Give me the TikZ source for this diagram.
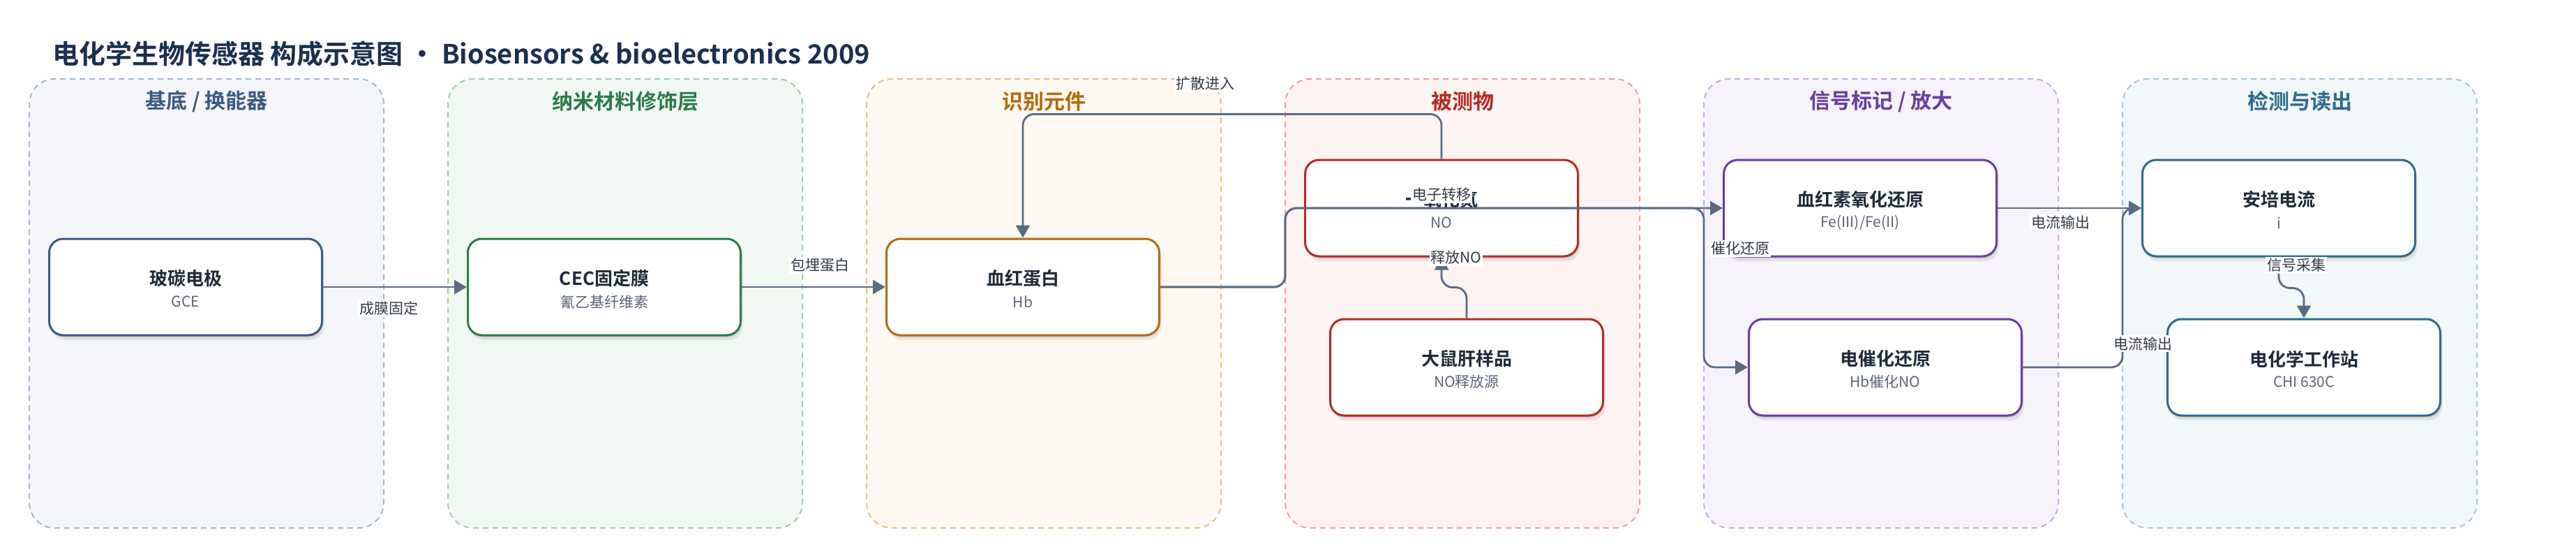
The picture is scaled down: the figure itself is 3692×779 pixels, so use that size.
\documentclass[tikz,border=0pt]{standalone}
\usepackage{fontspec}
\setmainfont{Noto Sans CJK SC}[BoldFont={Noto Sans CJK SC Bold}]
\usetikzlibrary{arrows.meta,shadows}

\definecolor{ink}{HTML}{1E2A38}
\definecolor{titleink}{HTML}{1B2F4E}
\definecolor{subgray}{HTML}{5B6577}
\definecolor{edgecol}{HTML}{5A6B82}
\definecolor{lblgray}{HTML}{333A45}
% clusters: border, fill, accent
\definecolor{aB}{HTML}{A7B4C8}\definecolor{aF}{HTML}{F4F6FA}\definecolor{aC}{HTML}{3C5A82}
\definecolor{bB}{HTML}{9FCBB0}\definecolor{bF}{HTML}{F1F8F3}\definecolor{bC}{HTML}{2D7A4A}
\definecolor{cB}{HTML}{E6BD85}\definecolor{cF}{HTML}{FDF9F2}\definecolor{cC}{HTML}{B5690D}
\definecolor{dB}{HTML}{E9A0A0}\definecolor{dF}{HTML}{FDF3F2}\definecolor{dC}{HTML}{B52A22}
\definecolor{eB}{HTML}{C8A8E0}\definecolor{eF}{HTML}{F7F3FB}\definecolor{eC}{HTML}{6A3D9E}
\definecolor{fB}{HTML}{A5C6D4}\definecolor{fF}{HTML}{F2F7F9}\definecolor{fC}{HTML}{2E6B8C}

\tikzset{
  clusterbox/.style={rectangle, rounded corners=36pt, line width=2pt,
    dash pattern=on 8pt off 6pt, minimum width=508pt, minimum height=643pt, inner sep=0pt},
  ctitle/.style={font=\bfseries\fontsize{30}{36}\selectfont, inner sep=0pt},
  nodebox/.style={rectangle, rounded corners=20pt, line width=3pt, fill=white,
    minimum width=391pt, minimum height=138pt, inner sep=0pt,
    drop shadow={shadow xshift=3pt, shadow yshift=-7pt, opacity=0.08, fill=black},
    drop shadow={shadow xshift=1pt, shadow yshift=-3pt, opacity=0.10, fill=black}},
  ntitle/.style={font=\bfseries\fontsize{26}{30}\selectfont, text=ink, inner sep=0pt},
  nsub/.style={font=\fontsize{21}{25}\selectfont, text=subgray, inner sep=0pt},
  conn/.style={draw=edgecol, line width=2.8pt, rounded corners=16pt,
    -{Triangle[length=18pt,width=20pt]}},
  elabel/.style={font=\fontsize{21}{25}\selectfont, text=lblgray, fill=white, inner sep=2pt},
}

\newcommand\mybox[6]{% name, x, y, color, title, sub
  \node[nodebox, draw=#4] (#1) at (#2,#3) {};
  \node[ntitle] (#1-t) at (#2,#3-12) {#5};
  \node[nsub] (#1-s) at (#2,#3+21) {#6};
}

\begin{document}
\begin{tikzpicture}[x=1pt,y=-1pt]
\useasboundingbox (0,0) rectangle (3692,779);
\fill[white] (0,0) rectangle (3692,779);

% title
\node[anchor=west, inner sep=0pt, font=\bfseries\fontsize{38}{44}\selectfont, text=titleink]
  (title) at (75,77) {电化学生物传感器 构成示意图 · Biosensors \& bioelectronics 2009};

% clusters
\node[clusterbox, draw=aB, fill=aF] (cl1) at (296,434.5) {};
\node[clusterbox, draw=bB, fill=bF] (cl2) at (896,434.5) {};
\node[clusterbox, draw=cB, fill=cF] (cl3) at (1496,434.5) {};
\node[clusterbox, draw=dB, fill=dF] (cl4) at (2096,434.5) {};
\node[clusterbox, draw=eB, fill=eF] (cl5) at (2696,434.5) {};
\node[clusterbox, draw=fB, fill=fF] (cl6) at (3296,434.5) {};
\node[ctitle, text=aC] (cl1-t) at (296,145) {基底 / 换能器};
\node[ctitle, text=bC] (cl2-t) at (896,145) {纳米材料修饰层};
\node[ctitle, text=cC] (cl3-t) at (1496,145) {识别元件};
\node[ctitle, text=dC] (cl4-t) at (2096,145) {被测物};
\node[ctitle, text=eC] (cl5-t) at (2696,145) {信号标记 / 放大};
\node[ctitle, text=fC] (cl6-t) at (3296,145) {检测与读出};

% nodes
\mybox{gce}{266}{411}{aC}{玻碳电极}{GCE}
\mybox{cec}{866}{411}{bC}{CEC固定膜}{氰乙基纤维素}
\mybox{hb}{1466}{411}{cC}{血红蛋白}{Hb}
\mybox{no}{2066}{298}{dC}{一氧化氮}{NO}
\mybox{rat}{2102}{526}{dC}{大鼠肝样品}{NO释放源}
\mybox{hem}{2666}{298}{eC}{血红素氧化还原}{Fe(III)/Fe(II)}
\mybox{ecr}{2702}{526}{eC}{电催化还原}{Hb催化NO}
\mybox{amp}{3266}{298}{fC}{安培电流}{i}
\mybox{chi}{3302}{526}{fC}{电化学工作站}{CHI 630C}

% junction coordinates
\coordinate (j1) at (1842,411);
\coordinate (j2) at (2442,298);
\coordinate (j3) at (3042,526);

% connectors
\draw[conn] (gce.east) -- (cec.west);
\draw[conn] (cec.east) -- (hb.west);
\draw[conn] (hb.east) -- (j1) |- (hem.west);
\draw[conn] (hb.east) -- (j1) |- (j2) |- (ecr.west);
\draw[conn] (no.north) -- ++(0,-64) -| (hb.north);
\draw[conn] (rat.north) -- ++(0,-44) -| (no.south);
\draw[conn] (hem.east) -- (amp.west);
\draw[conn] (ecr.east) -- (j3) |- (amp.west);
\draw[conn] (amp.south) -- ++(0,44) -| (chi.north);

% connector labels
\node[elabel] (l1) at (557,442) {成膜固定};
\node[elabel] (l2) at (1175,380) {包埋蛋白};
\node[elabel] (l3) at (2066,279) {电子转移};
\node[elabel] (l4) at (2494,356) {催化还原};
\node[elabel] (l5) at (1727,120) {扩散进入};
\node[elabel] (l6) at (2087,369) {释放NO};
\node[elabel] (l7) at (2953,318) {电流输出};
\node[elabel] (l8) at (3071,492) {电流输出};
\node[elabel] (l9) at (3291,380) {信号采集};
\end{tikzpicture}
\end{document}
